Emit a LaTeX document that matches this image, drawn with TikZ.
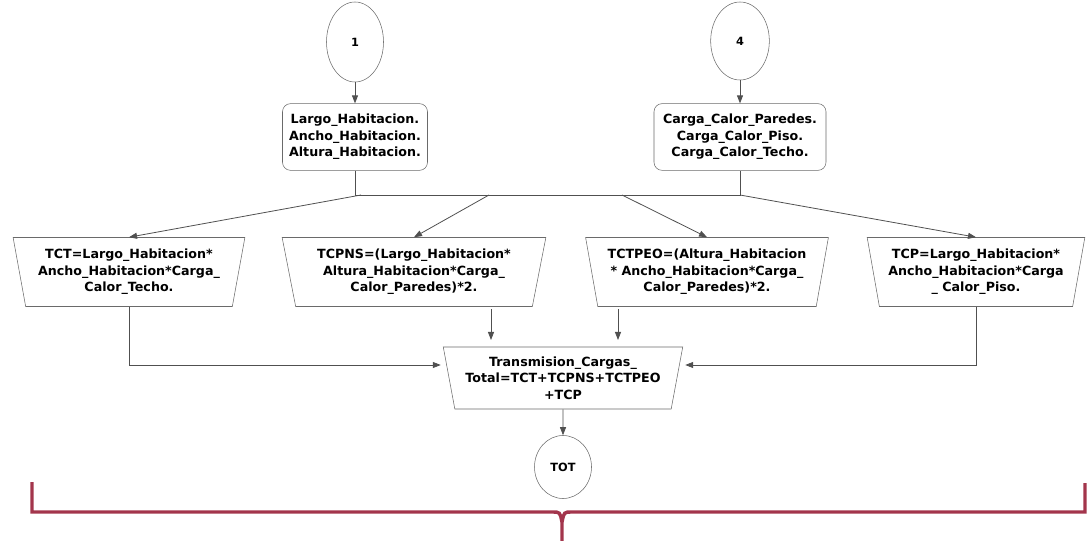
\documentclass[tikz,border=0pt]{standalone}
\usepackage{fontspec}
\setmainfont{DejaVu Sans}
\usepackage{tikz}
\usetikzlibrary{shapes.geometric,arrows.meta}
\usepackage{xcolor}
\definecolor{borde}{HTML}{6A6A6A}
\definecolor{gris}{HTML}{505050}
\definecolor{llave}{HTML}{A3354C}

\begin{document}
\begin{tikzpicture}[x=0.75pt,y=-0.75pt,
    conector/.style={ellipse,draw=borde,fill=white,font=\bfseries\fontsize{8.5}{10}\selectfont,inner sep=0pt},
    datos/.style={draw=borde,fill=white,rounded corners=6pt,align=center,font=\bfseries\fontsize{9.5}{12.5}\selectfont,minimum height=50pt},
    proceso/.style={trapezium,trapezium left angle=77,trapezium right angle=77,shape border rotate=180,trapezium stretches=true,draw=borde,fill=white,align=center,font=\bfseries\fontsize{9.5}{12.5}\selectfont,inner sep=1pt,minimum height=51.75pt},
    flecha/.style={draw=gris,line width=0.6pt,-{Triangle[length=6pt,width=4.5pt]}},
    linea/.style={draw=gris,line width=0.6pt}]
      \useasboundingbox (0,0) rectangle (1088,541);
      \node[conector,minimum width=42.75pt,minimum height=60pt] (c1) at (355,42) {1};
      \node[conector,minimum width=44pt,minimum height=58.5pt] (c4) at (740,41) {4};
      \node[datos,minimum width=108.75pt] (datos1) at (355,137) {Largo\_Habitacion.\\Ancho\_Habitacion.\\Altura\_Habitacion.};
      \node[datos,minimum width=129pt] (datos4) at (740,137) {Carga\_Calor\_Paredes.\\Carga\_Calor\_Piso.\\Carga\_Calor\_Techo.};
      \coordinate (j1) at (355,195);
      \coordinate (j4) at (740,195);
      \coordinate (s1) at (361,195);
      \coordinate (s2) at (489,195);
      \coordinate (s3) at (622,195);
      \node[proceso,minimum width=174pt] (tct) at (129,272) {TCT=Largo\_Habitacion*\\Ancho\_Habitacion*Carga\_\\Calor\_Techo.};
      \node[proceso,minimum width=198pt] (tcpns) at (414,272) {TCPNS=(Largo\_Habitacion*\\Altura\_Habitacion*Carga\_\\Calor\_Paredes)*2.};
      \node[proceso,minimum width=182.25pt] (tctpeo) at (707,272) {TCTPEO=(Altura\_Habitacion\\* Ancho\_Habitacion*Carga\_\\Calor\_Paredes)*2.};
      \node[proceso,minimum width=163.5pt] (tcp) at (976,272) {TCP=Largo\_Habitacion*\\Ancho\_Habitacion*Carga\\\_ Calor\_Piso.};
      \node[proceso,minimum width=180pt,minimum height=46.5pt] (trans) at (563,378) {Transmision\_Cargas\_\\Total=TCT+TCPNS+TCTPEO\\+TCP};
      \node[conector,minimum width=42.75pt,minimum height=47.25pt] (tot) at (563,467) {TOT};
      \coordinate (e2) at (491,340);
      \coordinate (e3) at (618,340);
      % entradas
      \draw[flecha] (c1) -- (datos1);
      \draw[flecha] (c4) -- (datos4);
      \draw[linea] (datos1) -- (j1) -- (j4) -- (datos4);
      % reparto a los calculos
      \draw[flecha] (s1) -- (tct.north);
      \draw[flecha] (s2) -- (tcpns.north);
      \draw[flecha] (s3) -- (tctpeo.north);
      \draw[flecha] (j4) -- (tcp.north);
      % suma total
      \draw[flecha,shorten >=6pt] (tct.south) |- ([yshift=9.75pt]trans.west);
      \draw[flecha,shorten >=6pt] (tcp.south) |- ([yshift=9.75pt]trans.east);
      \draw[flecha,shorten <=2pt] (tcpns.south -| e2) -- (e2);
      \draw[flecha,shorten <=2pt] (tctpeo.south -| e3) -- (e3);
      \draw[flecha] (trans) -- (tot);
      % llave inferior
      \draw[llave,line width=2.6pt,line join=miter]
        (32,482) -- (32,512) -- (552,512) .. controls (560,512) .. (562,522) -- (562,545)
        (1085,483) -- (1085,512) -- (572,512) .. controls (564,512) .. (562,522);
    \end{tikzpicture}
\end{document}
